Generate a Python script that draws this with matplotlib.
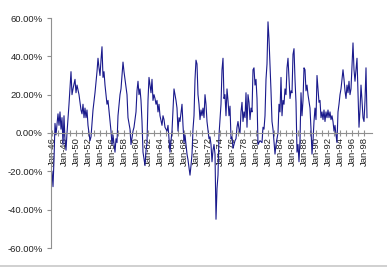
import matplotlib
matplotlib.use("Agg")
import matplotlib.pyplot as plt
from matplotlib.lines import Line2D

# months since Jan-46 and rolling return (%)
months = [0, 2, 4, 6, 8, 12, 14, 16, 18, 20, 22, 24, 26, 28, 30, 34, 38, 40, 42, 46,
          48, 50, 54, 58, 60, 62, 64, 66, 68, 70, 72, 76, 78, 82, 86, 90, 92, 94, 96, 98,
          100, 102, 104, 106, 110, 112, 116, 118, 120, 122, 126, 128, 130, 132, 136, 138, 142, 144, 146, 150,
          152, 156, 158, 162, 164, 168, 170, 172, 174, 176, 178, 180, 182, 186, 188, 190, 192, 194, 196, 198,
          200, 202, 204, 206, 208, 210, 212, 214, 216, 220, 222, 224, 226, 230, 232, 236, 238, 240, 244, 246,
          248, 250, 252, 254, 256, 260, 262, 264, 266, 270, 272, 276, 278, 280, 282, 284, 286, 288, 290, 292,
          294, 296, 298, 300, 302, 304, 306, 308, 310, 314, 316, 318, 320, 322, 324, 326, 328, 330, 332, 334,
          336, 338, 340, 342, 344, 346, 348, 350, 352, 354, 356, 358, 360, 362, 366, 368, 370, 372, 374, 376,
          378, 380, 382, 384, 386, 388, 390, 392, 394, 396, 398, 400, 402, 404, 406, 408, 410, 412, 416, 420,
          422, 424, 426, 428, 430, 432, 434, 436, 438, 440, 442, 446, 448, 450, 452, 454, 456, 458, 460, 462,
          464, 466, 468, 470, 472, 474, 476, 478, 480, 482, 484, 486, 488, 490, 492, 494, 496, 498, 500, 502,
          504, 506, 508, 510, 512, 516, 518, 520, 522, 524, 526, 528, 530, 532, 534, 536, 538, 540, 542, 544,
          546, 548, 550, 552, 554, 556, 558, 560, 562, 564, 566, 568, 570, 572, 574, 576, 578, 580, 582, 584,
          586, 588, 590, 592, 594, 596, 598, 600, 602, 604, 606, 608, 610, 612, 614, 616, 618, 620, 622, 624,
          626, 628, 630]
returns = [-20, -28, -14, 5, -1, 10, 4, 11, 2, 8, -6, 9, -4, -9, 0, 15, 32, 20, 23, 28,
           21, 25, 20, 12, 10, 15, 8, 13, 8, 12, 4, -4, -2, 12, 21, 32, 39, 34, 30, 38,
           45, 29, 32, 25, 15, 17, 6, 1, -6, -1, -10, -3, -5, 9, 20, 23, 37, 32, 28, 20,
           8, 2, -6, 1, 3, 11, 22, 27, 20, 23, 17, 6, -10, -17, -9, -5, 17, 29, 25, 21,
           28, 17, 20, 18, 15, 17, 11, 15, 9, 4, 9, 7, 3, 1, 4, -10, -4, 1, 23, 20,
           17, 13, 1, 8, 6, 15, 4, -5, -1, -11, -14, -22, -17, -11, 2, 9, 28, 38, 36, 20,
           15, 7, 12, 9, 13, 8, 20, 15, 6, -3, -2, -6, -15, -9, -6, -11, -45, -29, -22, -1,
           7, 15, 33, 39, 18, 20, 9, 23, 17, 9, 14, -3, -2, -8, -4, -3, 3, 6, 2, 0,
           11, 16, 6, 11, 8, 21, 3, 20, 16, 7, 13, 11, 33, 34, 25, 28, 18, -6, -4, -5,
           3, 2, 9, 28, 36, 58, 49, 36, 22, 6, 2, -11, -6, -3, 0, 15, 11, 29, 9, 17,
           15, 23, 20, 34, 39, 28, 18, 22, 21, 41, 44, 28, 16, -10, -6, -15, -4, 21, 9, 17,
           34, 33, 22, 25, 20, 13, 2, -11, -4, 6, 13, 7, 30, 23, 16, 17, 8, 11, 7, 12,
           6, 11, 8, 12, 8, 11, 7, 9, 6, 1, 4, -1, -5, 11, 15, 20, 23, 28, 33, 28,
           22, 18, 25, 21, 27, 20, 23, 35, 47, 33, 27, 33, 39, 20, 3, 12, 25, 17, 8, 6,
           17, 34, 8]

years = list(range(1946, 1999))
y_ticks = [-60, -40, -20, 0, 20, 40, 60]

fig = plt.figure(figsize=(3.87, 2.68), dpi=100)
ax = fig.add_axes([51 / 387, 20 / 268, 321 / 387, 230 / 268])

ax.plot(months, returns, color="#1a1a8c", linewidth=0.8)

ax.set_ylim(-60, 60)
ax.set_xlim(-2, 640)

for side in ["top", "right"]:
    ax.spines[side].set_visible(False)
ax.spines["bottom"].set_position(("data", 0))
ax.spines["bottom"].set_color("#909090")
ax.spines["left"].set_color("#909090")
ax.spines["bottom"].set_linewidth(0.8)
ax.spines["left"].set_linewidth(0.8)

ax.set_yticks(y_ticks)
ax.set_yticklabels([f"{v:.2f}%" for v in y_ticks])
ax.tick_params(axis="y", direction="out", length=3, width=0.8, color="#909090",
               labelsize=6.8, labelcolor="#222222", pad=3)

xt = [(y - 1946) * 12 for y in years]
xl = [f"Jan-{y % 100:02d}" if (y - 1946) % 2 == 0 else "" for y in years]
ax.set_xticks(xt)
ax.set_xticklabels(xl, rotation=90)
ax.tick_params(axis="x", direction="inout", length=4, width=0.8, color="#909090",
               labelsize=6.8, labelcolor="#222222", pad=1)

for t in ax.get_yticklabels() + ax.get_xticklabels():
    t.set_fontfamily("Liberation Sans")

# grey border line at the bottom of the chart area
fig.add_artist(Line2D([0, 1], [2 / 268, 2 / 268], color="#c8c8c8", linewidth=1.2))

fig.savefig("out.png", dpi=100)
